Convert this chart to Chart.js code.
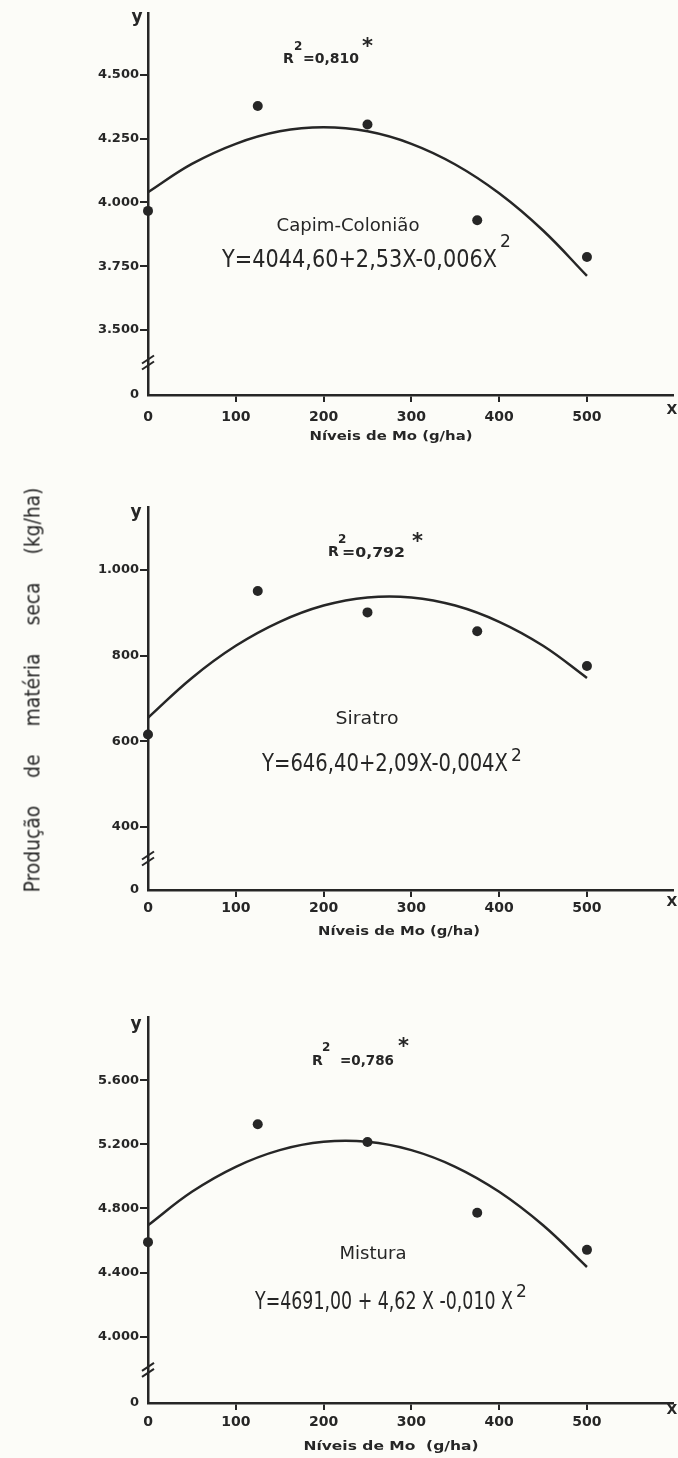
<!DOCTYPE html>
<html lang="pt">
<head>
<meta charset="utf-8">
<title>Produção de matéria seca x Níveis de Mo</title>
<script src="https://cdn.jsdelivr.net/npm/chart.js@4.4.1/dist/chart.umd.min.js"></script>
<style>
  body { margin: 0; background: #fcfcf8; }
  #page { position: relative; width: 678px; height: 1458px; overflow: hidden; }
  #page canvas { position: absolute; left: 0; }
  #ytitle {
    position: absolute; left: 32px; top: 690px;
    transform: translate(-50%, -50%) rotate(-90deg) scaleX(0.85);
    white-space: nowrap; font: 22px "DejaVu Sans", sans-serif;
    word-spacing: 26px; color: #262626;
  }
</style>
</head>
<body>
<div id="page">
  <canvas id="chartColoniao" width="678" height="470" style="top:0"></canvas>
  <canvas id="chartSiratro" width="678" height="480" style="top:470px"></canvas>
  <canvas id="chartMistura" width="678" height="498" style="top:960px"></canvas>
  <div id="ytitle">Produção de matéria seca (kg/ha)</div>
</div>
<script>
// niveis de Mo (g/ha) com valores observados
const levels = [0, 125, 250, 375, 500];
// pontos lidos sobre as curvas de regressao desenhadas
const curveX = [0, 50, 100, 150, 200, 250, 300, 350, 400, 450, 500];
const xTicks = [0, 100, 200, 300, 400, 500];

const coloniaoPoints = [3967, 4378, 4306, 3930, 3786];
const coloniaoCurve = [4040, 4151, 4230, 4279, 4295, 4279, 4230, 4149, 4036, 3890, 3712];
const coloniaoTicks = [3500, 3750, 4000, 4250, 4500];

const siratroPoints = [616, 951, 901, 857, 776];
const siratroCurve = [655, 748, 823, 879, 917, 936, 936, 917, 879, 823, 748];
const siratroTicks = [400, 600, 800, 1000];

const misturaPoints = [4590, 5325, 5214, 4773, 4542];
const misturaCurve = [4695, 4904, 5060, 5164, 5216, 5216, 5164, 5060, 4904, 4695, 4435];
const misturaTicks = [4000, 4400, 4800, 5200, 5600];

const ink = '#262626';
const family = '"DejaVu Sans", sans-serif';
Chart.defaults.font.family = family;

function fmt(v) {
    return String(v).replace(/\B(?=(\d{3})+(?!\d))/g, '.');
}

// textos soltos: rotulos dos eixos, R2, nome e equacao
function drawText(ctx, t) {
    ctx.font = t.f + ' ' + family;
    ctx.textBaseline = 'middle';
    ctx.textAlign = 'left';
    const m = ctx.measureText(t.t).width;
    const w = t.w || m;
    const x0 = t.align === 'center' ? t.x - w / 2 : t.x;
    ctx.save();
    ctx.translate(x0, t.y);
    ctx.scale(w / m, 1);
    ctx.fillText(t.t, 0, 0);
    ctx.restore();
}

function makeDecor(p) {
    return {
        id: 'decor',
        afterDraw(chart) {
            const ctx = chart.ctx;
            const xs = chart.scales.x, ys = chart.scales.y;
            ctx.save();
            ctx.fillStyle = ink;
            ctx.strokeStyle = ink;
            // quebra do eixo y
            const yb = (ys.getPixelForValue(p.ticks[0]) + ys.bottom) / 2;
            const xa = xs.left;
            ctx.lineWidth = 2;
            [-3, 3].forEach(d => {
                ctx.beginPath();
                ctx.moveTo(xa - 6, yb + d + 4);
                ctx.lineTo(xa + 6, yb + d - 4);
                ctx.stroke();
            });
            p.texts.forEach(t => drawText(ctx, t));
            ctx.restore();
        }
    };
}

function makePanel(id, p) {
    const canvas = document.getElementById(id);
    const H = canvas.height;
    return new Chart(canvas.getContext('2d'), {
        type: 'scatter',
        data: {
            datasets: [
                {
                    data: levels.map((x, i) => ({ x: x, y: p.points[i] })),
                    pointRadius: 5,
                    pointBackgroundColor: ink,
                    pointBorderWidth: 0,
                    clip: false,
                    order: 0
                },
                {
                    data: curveX.map((x, i) => ({ x: x, y: p.curve[i] })),
                    showLine: true,
                    borderColor: ink,
                    borderWidth: 2.5,
                    pointRadius: 0,
                    tension: 0.4,
                    fill: false,
                    clip: false,
                    order: 1
                }
            ]
        },
        options: {
            responsive: false,
            animation: false,
            devicePixelRatio: 1,
            layout: { padding: { top: p.top, right: 3, bottom: 0, left: 0 } },
            plugins: { legend: { display: false }, tooltip: { enabled: false } },
            scales: {
                x: {
                    type: 'linear',
                    min: 0,
                    max: 598,
                    afterBuildTicks: s => { s.ticks = xTicks.map(v => ({ value: v })); },
                    afterFit: s => { s.height = H - p.axisY; },
                    grid: {
                        drawOnChartArea: false,
                        tickLength: 7,
                        lineWidth: 2,
                        color: c => (c.tick && c.tick.value === 0) ? 'rgba(0,0,0,0)' : ink
                    },
                    border: { display: true, color: ink, width: 2.5 },
                    ticks: {
                        color: ink,
                        font: { size: 14, weight: 'bold' },
                        padding: p.xPad,
                        maxRotation: 0,
                        autoSkip: false
                    }
                },
                y: {
                    type: 'linear',
                    min: p.min,
                    max: p.max,
                    afterBuildTicks: s => { s.ticks = [p.min, ...p.ticks].map(v => ({ value: v })); },
                    afterFit: s => { s.width = 148; },
                    grid: {
                        drawOnChartArea: false,
                        tickLength: 8,
                        lineWidth: 2,
                        color: c => (c.tick && c.tick.value === p.min) ? 'rgba(0,0,0,0)' : ink
                    },
                    border: { display: true, color: ink, width: 2.5 },
                    ticks: {
                        color: ink,
                        font: { size: 13, weight: 'bold' },
                        padding: 1,
                        callback: v => v === p.min ? '0' : fmt(v)
                    }
                }
            }
        },
        plugins: [makeDecor(p)]
    });
}

makePanel('chartColoniao', {
    points: coloniaoPoints, curve: coloniaoCurve, ticks: coloniaoTicks,
    min: 3245, max: 4743, top: 13, axisY: 395, xPad: 7,
    texts: [
        { t: 'y', x: 137, y: 18, f: 'bold 17px', align: 'center' },
        { t: 'X', x: 672, y: 410, f: 'bold 14px', align: 'center' },
        { t: 'Níveis de Mo (g/ha)', x: 391, y: 437, f: 'bold 12px', w: 163, align: 'center' },
        { t: 'R', x: 283, y: 59, f: 'bold 14px' },
        { t: '2', x: 294, y: 47, f: 'bold 12px' },
        { t: '=0,810', x: 303, y: 59, f: 'bold 14px', w: 56 },
        { t: '*', x: 362, y: 48, f: 'bold 21px' },
        { t: 'Capim-Colonião', x: 348, y: 227, f: '17px', w: 143, align: 'center' },
        { t: 'Y=4044,60+2,53X-0,006X', x: 222, y: 261, f: '24px', w: 275 },
        { t: '2', x: 500, y: 243, f: '17px' }
    ]
});

makePanel('chartSiratro', {
    points: siratroPoints, curve: siratroCurve, ticks: siratroTicks,
    min: 253, max: 1147, top: 37, axisY: 420, xPad: 3,
    texts: [
        { t: 'y', x: 136, y: 43, f: 'bold 17px', align: 'center' },
        { t: 'X', x: 672, y: 432, f: 'bold 14px', align: 'center' },
        { t: 'Níveis de Mo (g/ha)', x: 399, y: 462, f: 'bold 12px', w: 162, align: 'center' },
        { t: 'R', x: 328, y: 82, f: 'bold 14px' },
        { t: '2', x: 338, y: 70, f: 'bold 12px' },
        { t: '=0,792', x: 342, y: 83, f: 'bold 14px', w: 63 },
        { t: '*', x: 412, y: 73, f: 'bold 21px' },
        { t: 'Siratro', x: 367, y: 250, f: '17px', w: 63, align: 'center' },
        { t: 'Y=646,40+2,09X-0,004X', x: 262, y: 295, f: '24px', w: 246 },
        { t: '2', x: 511, y: 287, f: '17px' }
    ]
});

makePanel('chartMistura', {
    points: misturaPoints, curve: misturaCurve, ticks: misturaTicks,
    min: 3587, max: 5994, top: 57, axisY: 443, xPad: 4,
    texts: [
        { t: 'y', x: 136, y: 65, f: 'bold 17px', align: 'center' },
        { t: 'X', x: 672, y: 450, f: 'bold 14px', align: 'center' },
        { t: 'Níveis de Mo  (g/ha)', x: 391, y: 487, f: 'bold 12px', w: 175, align: 'center' },
        { t: 'R', x: 312, y: 101, f: 'bold 14px' },
        { t: '2', x: 322, y: 88, f: 'bold 12px' },
        { t: '=0,786', x: 340, y: 101, f: 'bold 14px', w: 54 },
        { t: '*', x: 398, y: 88, f: 'bold 21px' },
        { t: 'Mistura', x: 373, y: 295, f: '17px', w: 67, align: 'center' },
        { t: 'Y=4691,00 + 4,62 X -0,010 X', x: 255, y: 343, f: '24px', w: 258 },
        { t: '2', x: 516, y: 333, f: '17px' }
    ]
});
</script>
</body>
</html>
